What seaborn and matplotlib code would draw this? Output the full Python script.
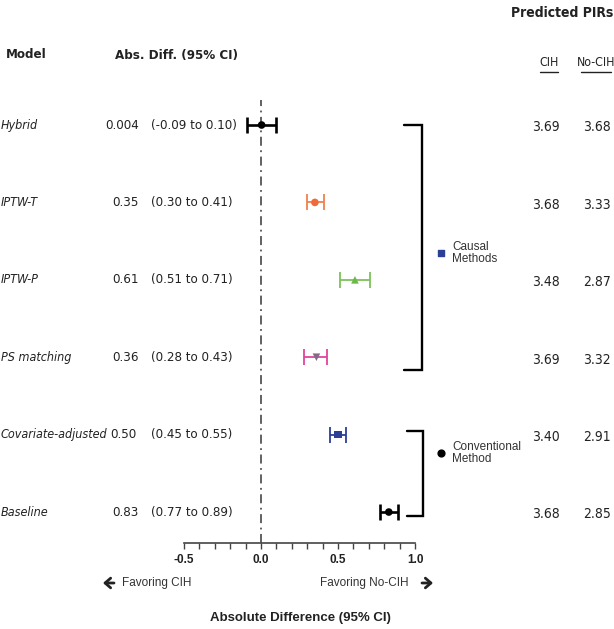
import matplotlib
matplotlib.use("Agg")
import matplotlib.pyplot as plt
from matplotlib.patches import FancyArrowPatch
from matplotlib.transforms import blended_transform_factory
from matplotlib.ticker import MultipleLocator
import seaborn as sns
import pandas as pd

# data
models = ["Hybrid", "IPTW-T", "IPTW-P", "PS matching", "Covariate-adjusted", "Baseline"]
abs_diff = [0.004, 0.35, 0.61, 0.36, 0.50, 0.83]
ci_low = [-0.09, 0.30, 0.51, 0.28, 0.45, 0.77]
ci_high = [0.10, 0.41, 0.71, 0.43, 0.55, 0.89]
diff_text = ["0.004", "0.35", "0.61", "0.36", "0.50", "0.83"]
ci_text = ["(-0.09 to 0.10)", "(0.30 to 0.41)", "(0.51 to 0.71)",
           "(0.28 to 0.43)", "(0.45 to 0.55)", "(0.77 to 0.89)"]
pir_cih = ["3.69", "3.68", "3.48", "3.69", "3.40", "3.68"]
pir_nocih = ["3.68", "3.33", "2.87", "3.32", "2.91", "2.85"]
groups = ["Causal Methods", "Conventional Method"]
group_rows = [(0, 3), (4, 5)]
x_ticks = [-0.5, 0.0, 0.5, 1.0]

bar_colors = ["black", "#f0804e", "#7cc25a", "#e2449c", "#2b3f96", "black"]
marker_colors = ["black", "#ee6a3a", "#6cb84a", "#86688a", "#2b3f96", "black"]
marker_shapes = ["o", "o", "^", "v", "s", "o"]

sns.set_style("white")
plt.rcParams["font.family"] = ["Liberation Sans", "DejaVu Sans"]
narrow = dict(family=["DejaVu Sans"], fontstretch="condensed")

W, H = 614, 629
fig = plt.figure(figsize=(W / 100, H / 100), dpi=100)
ax = fig.add_axes([184 / W, 1 - 543 / H, 231 / W, 443 / H])

df = pd.DataFrame({"model": models, "diff": abs_diff, "row": range(len(models))})

# confidence intervals
for i in range(len(models)):
    lw = 1.9 if bar_colors[i] == "black" else 1.3
    ax.errorbar(abs_diff[i], i, xerr=[[abs_diff[i] - ci_low[i]], [ci_high[i] - abs_diff[i]]],
                fmt="none", ecolor=bar_colors[i], elinewidth=lw, capsize=5.5, capthick=lw)

sns.scatterplot(data=df, x="diff", y="row", hue="model", style="model",
                palette=dict(zip(models, marker_colors)),
                markers=dict(zip(models, marker_shapes)),
                s=30, edgecolor="none", legend=False, ax=ax, zorder=3)

ax.axvline(0, color="#555555", lw=1.3, linestyle=(0, (5, 2.5, 1, 2.5)), zorder=1)

ax.set_xlim(-0.5, 1.0)
ax.set_ylim(5.40, -0.323)
ax.set_xlabel("")
ax.set_ylabel("")
ax.set_yticks([])
ax.set_xticks(x_ticks)
ax.set_xticklabels([f"{t:.1f}" for t in x_ticks], fontweight="bold", fontsize=8.5,
                   color="#222222")
ax.xaxis.set_minor_locator(MultipleLocator(0.1))
ax.tick_params(axis="x", which="both", bottom=True, direction="out", length=4,
               width=1, color="#444444", pad=4)
for s in ["top", "left", "right"]:
    ax.spines[s].set_visible(False)
ax.spines["bottom"].set_color("#444444")
ax.spines["bottom"].set_linewidth(1.2)

tr = blended_transform_factory(fig.transFigure, ax.transData)
fx = lambda px: px / W
fy = lambda py: 1 - py / H

# left table and predicted PIR columns
fig.canvas.draw()
renderer = fig.canvas.get_renderer()
for i, m in enumerate(models):
    name = ax.text(fx(1), i, m, transform=tr, style="italic", fontsize=9,
                   va="center", ha="left", color="#222222", **narrow)
    bb = name.get_window_extent(renderer)
    if bb.x1 + 4 > 111:
        # long name: the value follows right after it, as in the reference
        ax.text(fx(bb.x1 + 3), i, diff_text[i], transform=tr, fontsize=9.5,
                va="center", ha="left", color="#222222", **narrow)
    else:
        ax.text(fx(139), i, diff_text[i], transform=tr, fontsize=9.5,
                va="center", ha="right", color="#222222", **narrow)
    ax.text(fx(151), i, ci_text[i], transform=tr, fontsize=9.5,
            va="center", ha="left", color="#222222", **narrow)
    ax.text(fx(546), i + 0.03, pir_cih[i], transform=tr, fontsize=10,
            va="center", ha="center", color="#222222", **narrow)
    ax.text(fx(597), i + 0.03, pir_nocih[i], transform=tr, fontsize=10,
            va="center", ha="center", color="#222222", **narrow)

# headers
fig.text(fx(6), fy(55), "Model", fontweight="bold", fontsize=9.5,
         va="center", ha="left", color="#222222", **narrow)
fig.text(fx(115), fy(55), "Abs. Diff. (95% CI)", fontweight="bold",
         fontsize=9.5, va="center", ha="left", color="#222222", **narrow)
fig.text(fx(613), fy(13), "Predicted PIRs", fontweight="bold",
         fontsize=10, va="center", ha="right", color="#222222", **narrow)
for cx, lab, half in [(549, "CIH", 9), (596, "No-CIH", 15)]:
    fig.text(fx(cx), fy(63), lab, fontsize=8.8, va="center",
             ha="center", color="#222222", **narrow)
    fig.add_artist(plt.Line2D([fx(cx - half), fx(cx + half)], [fy(72), fy(72)],
                              transform=fig.transFigure, color="#222222", lw=1))

# group brackets and labels
bracket_x = [(404, 422), (407, 423)]
bracket_pad = [(0.0, 0.17), (-0.05, 0.05)]
label_row = [1.65, 4.24]
marks = [("s", "#2b3f96"), ("o", "black")]
for g, (r0, r1), (x0, x1), (p0, p1), ym, (mk, mc) in zip(
        groups, group_rows, bracket_x, bracket_pad, label_row, marks):
    ya, yb = r0 + p0, r1 + p1
    ax.plot([fx(x0), fx(x1), fx(x1), fx(x0)], [ya, ya, yb, yb], transform=tr,
            color="black", lw=1.7, clip_on=False, solid_joinstyle="miter")
    ax.scatter([fx(441)], [ym], transform=tr, marker=mk, color=mc, s=24,
               clip_on=False, zorder=4)
    ax.text(fx(452), ym, g.replace(" ", "\n"), transform=tr, fontsize=8.5,
            va="center", ha="left", color="#333333", linespacing=1.0)

# bottom annotations
arrow = dict(arrowstyle="->,head_length=0.4,head_width=0.35", color="#222222",
             lw=2, shrinkA=0, shrinkB=0, mutation_scale=10,
             transform=fig.transFigure)
fig.add_artist(FancyArrowPatch((fx(114), fy(583)), (fx(103), fy(583)), **arrow))
fig.add_artist(FancyArrowPatch((fx(422), fy(583)), (fx(433), fy(583)), **arrow))
fig.text(fx(122), fy(583), "Favoring CIH", fontsize=8.5, va="center", ha="left",
         color="#333333")
fig.text(fx(409), fy(583), "Favoring No-CIH", fontsize=8.5, va="center", ha="right",
         color="#333333")
fig.text(fx(300), fy(618), "Absolute Difference (95% CI)", fontsize=9.5,
         fontweight="bold", va="center", ha="center", color="#222222")

fig.savefig("out.png", dpi=100)
